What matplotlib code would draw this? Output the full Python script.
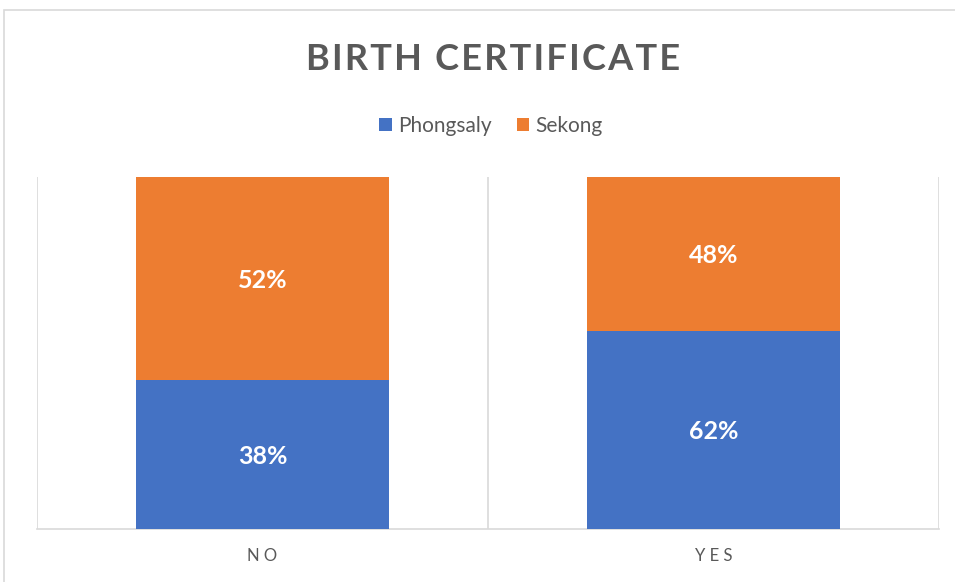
import matplotlib
matplotlib.use("Agg")
from matplotlib import pyplot as plt
from matplotlib.patches import Rectangle

## Data
categories = ['NO', 'YES']
phongsaly = [38, 62]
sekong = [52, 48]

blue = '#4472c4'
orange = '#ed7d31'
grey_text = '#595959'
grid_col = '#d9d9d9'

plt.rcParams['font.family'] = ['Lato', 'DejaVu Sans']

fig = plt.figure(figsize=(9.55, 5.82), dpi=100)

# outer chart frame
fig.patches.append(Rectangle((4 / 955, -0.1), 1.2, (582 - 10) / 582 + 0.1,
                             transform=fig.transFigure, fill=False,
                             edgecolor=grid_col, linewidth=1.2))

ax = fig.add_axes([37 / 955, 53 / 582, 902 / 955, 352 / 582])

# 100% stacked: shares of each category, labels show raw values
totals = [p + s for p, s in zip(phongsaly, sekong)]
p_share = [p / t for p, t in zip(phongsaly, totals)]
s_share = [s / t for s, t in zip(sekong, totals)]
x = list(range(len(categories)))

b1 = ax.bar(x, p_share, width=0.56, color=blue, label='Phongsaly', zorder=3)
b2 = ax.bar(x, s_share, bottom=p_share, width=0.56, color=orange, label='Sekong', zorder=3)

for i in x:
    ax.text(i, p_share[i] / 2, f'{phongsaly[i]}%', ha='center', va='center_baseline',
            color='white', fontsize=18, fontweight='bold', zorder=4)
    ax.text(i, p_share[i] + s_share[i] / 2, f'{sekong[i]}%', ha='center', va='center_baseline',
            color='white', fontsize=18, fontweight='bold', zorder=4)

ax.set_xlim(-0.5, len(categories) - 0.5)
ax.set_ylim(0, 1)
ax.set_yticks([])
ax.set_xticks(x)
ax.set_xticklabels([' '.join(c) for c in categories], color=grey_text, fontsize=12)
ax.tick_params(axis='x', length=0, pad=14)

# category separators
for v in [-0.5, 0.5, 1.5]:
    ax.axvline(v, color=grid_col, linewidth=1.2, zorder=1)

for side in ['top', 'right', 'left']:
    ax.spines[side].set_visible(False)
ax.spines['bottom'].set_color(grid_col)
ax.spines['bottom'].set_linewidth(1.2)

# title with a little letter spacing
title = '\u200a'.join('BIRTH CERTIFICATE')
fig.text(493 / 955, 1 - 60 / 582, title, ha='center', va='center',
         fontsize=26, fontweight='bold', color=grey_text)

fig.legend(handles=[b1, b2], loc='center', bbox_to_anchor=(491 / 955, 1 - 126 / 582),
           ncol=2, frameon=False, fontsize=15, handlelength=0.6, handleheight=0.6,
           handletextpad=0.3, columnspacing=1.2, labelcolor=grey_text)

fig.savefig('out.png', dpi=100)
